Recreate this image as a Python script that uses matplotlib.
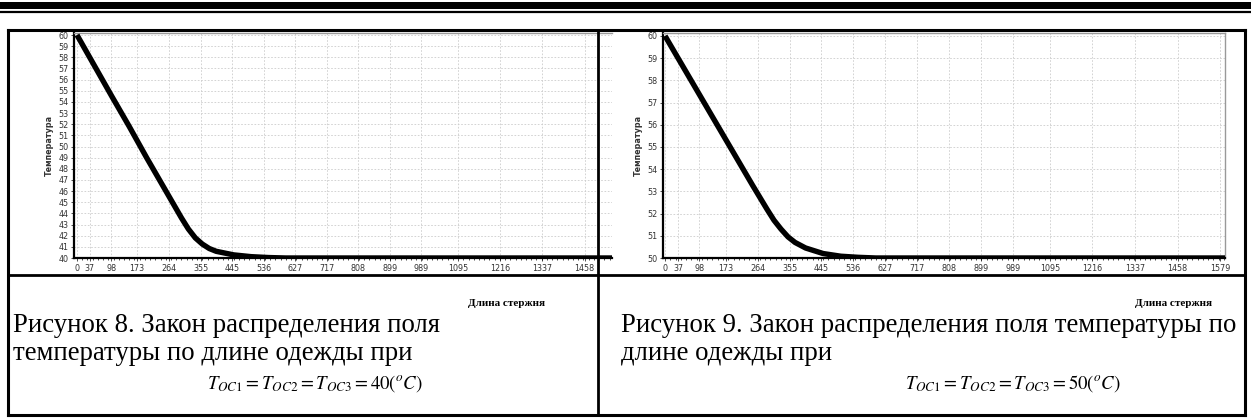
import matplotlib
matplotlib.use("Agg")
import matplotlib.pyplot as plt
from matplotlib.lines import Line2D
from matplotlib.ticker import MultipleLocator

W, H = 1251, 418

# data
x_ticks = [0, 37, 98, 173, 264, 355, 445, 536, 627, 717, 808, 899, 989, 1095, 1216, 1337, 1458, 1579]

len_8 = [0, 50, 100, 150, 200, 250, 300, 320, 340, 360, 380, 400, 450, 500, 550, 600, 1540]
temp_8 = [60, 57.25, 54.5, 51.8, 49.0, 46.3, 43.6, 42.6, 41.8, 41.25, 40.85, 40.6, 40.28, 40.12, 40.04, 40.0, 40.0]

len_9 = [0, 50, 100, 150, 200, 250, 290, 310, 330, 350, 370, 400, 450, 500, 550, 600, 1593]
temp_9 = [60, 58.65, 57.3, 55.95, 54.6, 53.25, 52.2, 51.7, 51.3, 50.95, 50.7, 50.45, 50.2, 50.08, 50.03, 50.0, 50.0]

captions = [
    ["Рисунок 8. Закон распределения поля", "температуры по длине одежды при"],
    ["Рисунок 9. Закон распределения поля температуры по", "длине одежды при"],
]
formulas = [
    r"$T_{OC1} = T_{OC2} = T_{OC3} = \mathrm{40}(^{o}C)$",
    r"$T_{OC1} = T_{OC2} = T_{OC3} = \mathrm{50}(^{o}C)$",
]

plt.rcParams["mathtext.fontset"] = "stix"

fig = plt.figure(figsize=(W / 100, H / 100), dpi=100)


def rect(x0, y0, x1, y1):
    return [x0 / W, 1 - y1 / H, (x1 - x0) / W, (y1 - y0) / H]


def hline(y, x0, x1, lw):
    fig.add_artist(Line2D([x0 / W, x1 / W], [1 - y / H, 1 - y / H], color="black", lw=lw))


def vline(x, y0, y1, lw):
    fig.add_artist(Line2D([x / W, x / W], [1 - y0 / H, 1 - y1 / H], color="black", lw=lw))


def chart(r, xs, ys, xlim, ylim, yticks):
    ax = fig.add_axes(r)
    ax.plot(xs, ys, color="black", lw=3.9, solid_capstyle="butt", zorder=3)
    ax.set_xticks(x_ticks)
    ax.xaxis.set_minor_locator(MultipleLocator(15))
    ax.set_yticks(yticks)
    ax.set_xlim(*xlim)
    ax.set_ylim(*ylim)
    ax.tick_params(labelsize=5.8, colors="#333333", length=2.5, width=0.6, pad=1.5)
    ax.tick_params(axis="x", which="minor", length=1.5, width=0.5)
    ax.grid(True, color="#cccccc", ls=(0, (2, 2)), lw=0.6)
    ax.set_axisbelow(True)
    for s in ["top", "right"]:
        ax.spines[s].set_color("#999999")
        ax.spines[s].set_linewidth(1.0)
    for s in ["left", "bottom"]:
        ax.spines[s].set_linewidth(1.6)
    ax.set_ylabel("Температура", fontsize=5.8, fontweight="bold", color="#333333", labelpad=3)
    return ax


ax1 = chart(rect(74, 33, 612, 258), len_8, temp_8, (-8.6, 1537), (40, 60.18), range(40, 61))
ax1.spines["right"].set_visible(False)
ax2 = chart(rect(663, 33, 1225, 258), len_9, temp_9, (-5.7, 1593), (50, 60.13), range(50, 61))

# page header bars
fig.add_artist(plt.Rectangle((0, 1 - 9 / H), 1, 7 / H, color="black", lw=0))
hline(12, 0, W, 1.6)

# table frame
hline(30, 8, 1245, 2.2)
hline(275, 8, 1245, 2.0)
hline(415, 8, 1245, 2.2)
vline(8, 30, 415, 2.2)
vline(598, 30, 415, 2.0)
vline(1245, 30, 415, 2.2)

serif = "Liberation Serif"
fig.text(545 / W, 1 - 304 / H, "Длина стержня", fontsize=8, fontweight="bold",
         family=serif, ha="right", va="center")
fig.text(1212 / W, 1 - 304 / H, "Длина стержня", fontsize=8, fontweight="bold",
         family=serif, ha="right", va="center")

for cx, lines in zip([13, 621], captions):
    for yy, line in zip([325, 353], lines):
        fig.text(cx / W, 1 - yy / H, line, fontsize=19.3, family=serif, ha="left", va="center")

for fx, f in zip([207, 905], formulas):
    fig.text(fx / W, 1 - 384 / H, f, fontsize=13.5, ha="left", va="center")

fig.savefig("out.png", dpi=100)
